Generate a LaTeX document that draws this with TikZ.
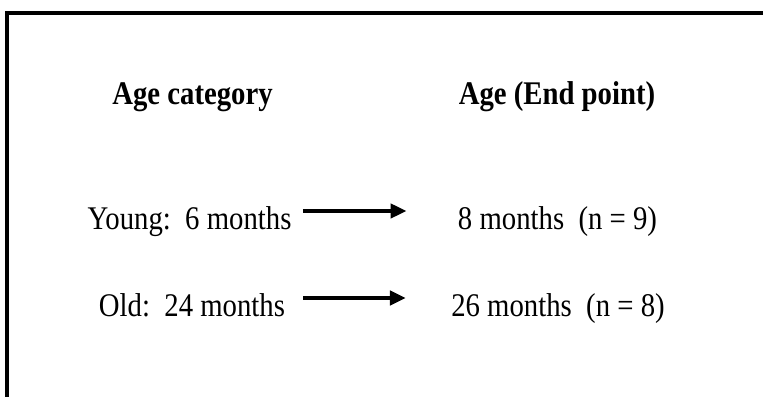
\documentclass[tikz,border=0pt]{standalone}
\usepackage{fontspec}
\setmainfont{Liberation Serif}[FakeStretch=0.87]
\usetikzlibrary{arrows.meta}
\tikzset{
	label text/.style={inner sep=0pt, anchor=base, font=\fontsize{18.8}{22}\selectfont},
	head text/.style={label text, font=\fontsize{18.8}{22}\selectfont\bfseries},
	frame/.style={line width=0.08cm, line join=miter},
	flow/.style={line width=0.08cm, -{Triangle[length=0.32cm, width=0.28cm]}}
}

\begin{document}
\begin{tikzpicture}
			%%%%% START %%%%%
			\useasboundingbox (0, 0) rectangle (15.26, 7.94);
			
			\draw[frame] (0.13, -0.2) -- (0.13, 7.68) -- (15.5, 7.68);
			
			\node[head text] (agecat) at (3.85, 5.84) {Age category};
			\node[head text] (ageend) at (11.14, 5.84) {Age (End point)};
			
			\node[label text] (young) at (3.79, 3.34) {Young:\ \ 6 months};
			\node[label text] (youngend) at (11.15, 3.34) {8 months\ \ (n = 9)};
			\node[label text] (old) at (3.84, 1.60) {Old:\ \ 24 months};
			\node[label text] (oldend) at (11.16, 1.60) {26 months\ \ (n = 8)};
			
			\draw[flow, shorten <=0.22cm, shorten >=1.02cm] ([yshift=0.38cm]young.base east) -- ([yshift=0.38cm]youngend.base west);
			\draw[flow, shorten <=0.36cm, shorten >=0.90cm] ([yshift=0.38cm]old.base east) -- ([yshift=0.38cm]oldend.base west);
			%%%%% END %%%%%
		\end{tikzpicture}
\end{document}
